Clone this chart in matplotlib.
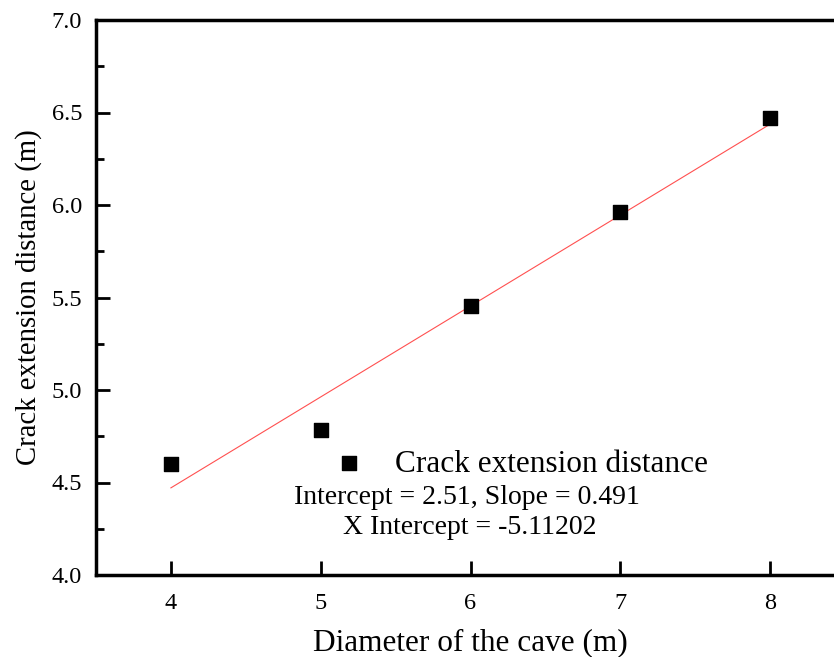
import numpy as np
import matplotlib
matplotlib.use('Agg')
import matplotlib.pyplot as plt
from matplotlib.ticker import MultipleLocator

# Data
diameter = [4, 5, 6, 7, 8]
crack_dist = [4.60, 4.785, 5.455, 5.96, 6.47]
series_name = 'Crack extension distance'
fit_text = 'Intercept = 2.51, Slope = 0.491'
xint_text = 'X Intercept = -5.11202'

plt.rcParams['font.family'] = ['Liberation Serif', 'DejaVu Serif']

fig = plt.figure(figsize=(8.34, 6.57), dpi=100)
# the right edge of the frame falls just outside the picture
ax = fig.add_axes([96/834, 82/657, 749/834, 555/657])

slope, intercept = np.polyfit(diameter, crack_dist, 1)
xfit = np.array([min(diameter), max(diameter)])
ax.plot(xfit, intercept + slope*xfit, color='#ff5050', lw=0.8, zorder=2)
ax.scatter(diameter, crack_dist, marker='s', s=100, color='black', zorder=3, label=series_name)

ax.set_xlim(3.5, 8.5)
ax.set_ylim(4.0, 7.0)
ax.xaxis.set_major_locator(MultipleLocator(1))
ax.yaxis.set_major_locator(MultipleLocator(0.5))
ax.yaxis.set_minor_locator(MultipleLocator(0.25))
ax.tick_params(which='both', direction='in', width=2, labelsize=17.5, top=False, right=False)
ax.tick_params(which='major', length=10)
ax.tick_params(which='minor', length=6)
ax.tick_params(axis='y', which='major', pad=10)
ax.tick_params(axis='x', which='major', pad=13)
ax.yaxis.set_major_formatter(plt.FormatStrFormatter('%.1f'))
for s in ['left', 'bottom', 'top', 'right']:
    ax.spines[s].set_linewidth(2.5)

ax.set_xlabel('Diameter of the cave (m)', fontsize=22.5, labelpad=10)
ax.set_ylabel('Crack extension distance (m)', fontsize=20.7, labelpad=7)

ax.legend(loc='center left', bbox_to_anchor=(222/749, 1 - 444/555), frameon=False,
          fontsize=22.5, handletextpad=0.45, scatterpoints=1, borderpad=0, borderaxespad=0)
ax.text(467/749 - 96/749, 1 - 477/555, fit_text, transform=ax.transAxes,
        ha='center', va='center', fontsize=20)
ax.text(470/749 - 96/749, 1 - 508/555, xint_text, transform=ax.transAxes,
        ha='center', va='center', fontsize=20)

fig.savefig('out.png', dpi=100)
